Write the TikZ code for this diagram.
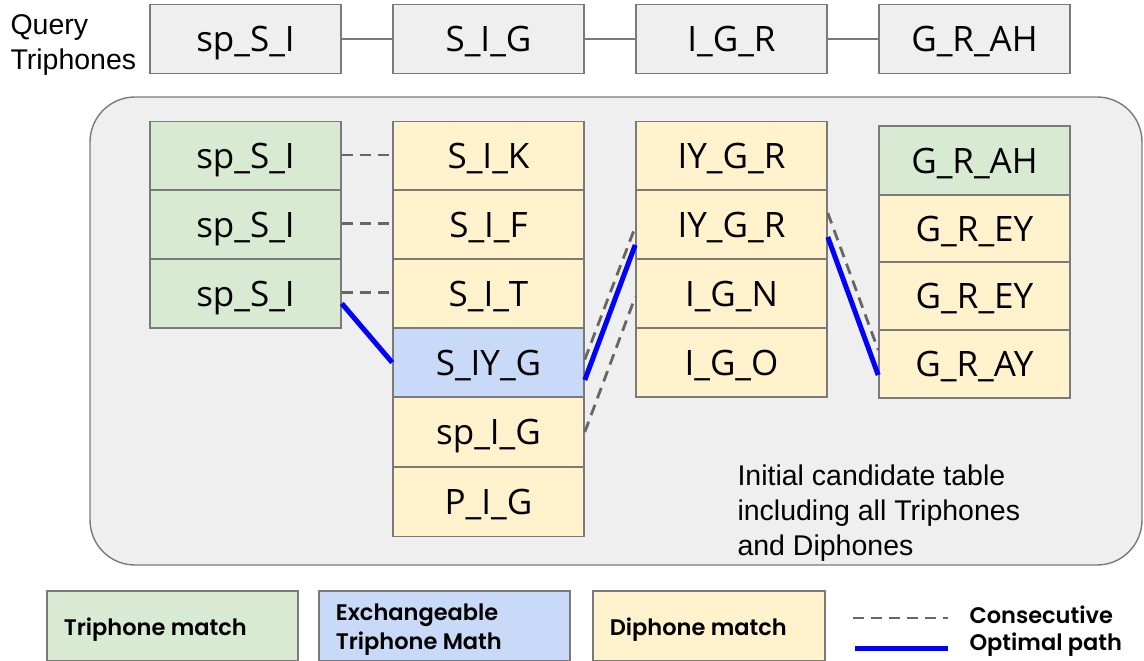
\documentclass[tikz,border=0pt]{standalone}
\usepackage{fontspec}
\setmainfont{Open Sans}
\newfontfamily\arialfont{Liberation Sans}
\newfontfamily\legfont{Poppins}[UprightFont=* SemiBold,BoldFont=* Bold]
\usetikzlibrary{calc}
\definecolor{cgreen}{HTML}{D9EAD3}
\definecolor{cyellow}{HTML}{FFF2CC}
\definecolor{cblue}{HTML}{C9DAF8}
\definecolor{cgray}{HTML}{EFEFEF}
\definecolor{cborder}{HTML}{7A7A7A}
\definecolor{cdash}{HTML}{666666}
\definecolor{cpath}{HTML}{0000FF}
\tikzset{
  cell/.style={draw=cborder, line width=1.6pt, minimum width=191pt, minimum height=69pt, inner sep=0pt, text depth=0pt, font=\fontsize{35}{40}\selectfont},
  qcell/.style={cell, fill=cgray},
  gcell/.style={cell, fill=cgreen},
  ycell/.style={cell, fill=cyellow},
  bcell/.style={cell, fill=cblue},
  consec/.style={draw=cdash, line width=2.8pt, dash pattern=on 11pt off 7pt},
  optpath/.style={draw=cpath, line width=5pt},
  qlink/.style={draw=cborder, line width=1.4pt},
  legbox/.style={draw=cborder, line width=1.4pt, minimum width=251pt, minimum height=70pt, inner sep=0pt},
  legtext/.style={font=\legfont\fontsize{22.5}{29}\selectfont, align=left, anchor=west},
  note/.style={font=\arialfont\fontsize{28.5}{35}\selectfont, align=left}
}
\begin{document}
\begin{tikzpicture}[x=1pt,y=-1pt]
\useasboundingbox (0,0) rectangle (1144,661);
% query row
\node[note, anchor=west] (qlabel) at (7,45.5) {Query\\Triphones};
\node[qcell] (q1) at (245.5,39) {sp\_S\_I};
\node[qcell] (q2) at (488.5,39) {S\_I\_G};
\node[qcell] (q3) at (731.5,39) {I\_G\_R};
\node[qcell] (q4) at (974.5,39) {G\_R\_AH};
\draw[qlink] (q1) -- (q2);
\draw[qlink] (q2) -- (q3);
\draw[qlink] (q3) -- (q4);
% candidate table panel
\node[draw=cborder, line width=1.4pt, fill=cgray, rounded corners=45pt, minimum width=1052pt, minimum height=468pt, inner sep=0pt] (panel) at (616,331) {};
% column 1
\node[gcell] (a1) at (245.5,156) {sp\_S\_I};
\node[gcell] (a2) at (245.5,224.5) {sp\_S\_I};
\node[gcell] (a3) at (245.5,293.5) {sp\_S\_I};
% column 2
\node[ycell] (b1) at (488.5,156) {S\_I\_K};
\node[ycell] (b2) at (488.5,224.5) {S\_I\_F};
\node[ycell] (b3) at (488.5,293.5) {S\_I\_T};
\node[bcell] (b4) at (488.5,362.5) {S\_IY\_G};
\node[ycell] (b5) at (488.5,432) {sp\_I\_G};
\node[ycell] (b6) at (488.5,502) {P\_I\_G};
% column 3
\node[ycell] (c1) at (731.5,156) {IY\_G\_R};
\node[ycell] (c2) at (731.5,224.5) {IY\_G\_R};
\node[ycell] (c3) at (731.5,293.5) {I\_G\_N};
\node[ycell] (c4) at (731.5,362.5) {I\_G\_O};
% column 4
\node[gcell, minimum height=69pt] (d1) at (974.5,160.5) {G\_R\_AH};
\node[ycell, minimum height=67pt] (d2) at (974.5,228.5) {G\_R\_EY};
\node[ycell, minimum height=68pt] (d3) at (974.5,296) {G\_R\_EY};
\node[ycell, minimum height=68pt] (d4) at (974.5,364) {G\_R\_AY};
% connectors
\draw[consec] ([yshift=1pt]a1.east) -- ([yshift=1pt]b1.west);
\draw[consec] ([yshift=1pt]a2.east) -- ([yshift=1pt]b2.west);
\draw[consec] ([yshift=1pt]a3.east) -- ([yshift=1pt]b3.west);
\draw[consec] ([yshift=3pt]b4.east) -- ([yshift=-2.5pt]c2.west);
\draw[consec] (b5.east) -- ([yshift=-3.5pt]c3.west);
\draw[consec] ([yshift=11.5pt]c2.east) -- ([yshift=14pt]d4.west);
\draw[optpath] ([yshift=-10pt]a3.east) -- (b4.west);
\draw[optpath] ([yshift=-17.5pt]b4.east) -- ([yshift=-20.5pt]c2.west);
\draw[optpath] ([yshift=-12.5pt]c2.east) -- ([yshift=-11pt]d4.west);
\node[note, anchor=north west] (caption) at (734,461.5) {Initial candidate table\\including all Triphones\\and Diphones};
% legend
\node[legbox, fill=cgreen] (lg) at (172.5,626) {};
\node[legtext] (lgt) at ([xshift=14pt,yshift=-3.5pt]lg.west) {Triphone match};
\node[legbox, fill=cblue] (lb) at (444.5,626) {};
\node[legtext] (lbt) at ([xshift=14pt,yshift=-3.5pt]lb.west) {Exchangeable\\Triphone Math};
\node[legbox, fill=cyellow, minimum width=232pt] (ly) at (709,626) {};
\node[legtext] (lyt) at ([xshift=14pt,yshift=-3.5pt]ly.west) {Diphone match};
\coordinate (k1a) at (853,618);
\coordinate (k1b) at (948,618);
\coordinate (k2a) at (855,648);
\coordinate (k2b) at (948,648);
\draw[consec] (k1a) -- (k1b);
\draw[optpath] (k2a) -- (k2b);
\node[legtext] (kt1) at (966,615) {Consecutive};
\node[legtext] (kt2) at (966,645) {Optimal path};
\end{tikzpicture}
\end{document}
